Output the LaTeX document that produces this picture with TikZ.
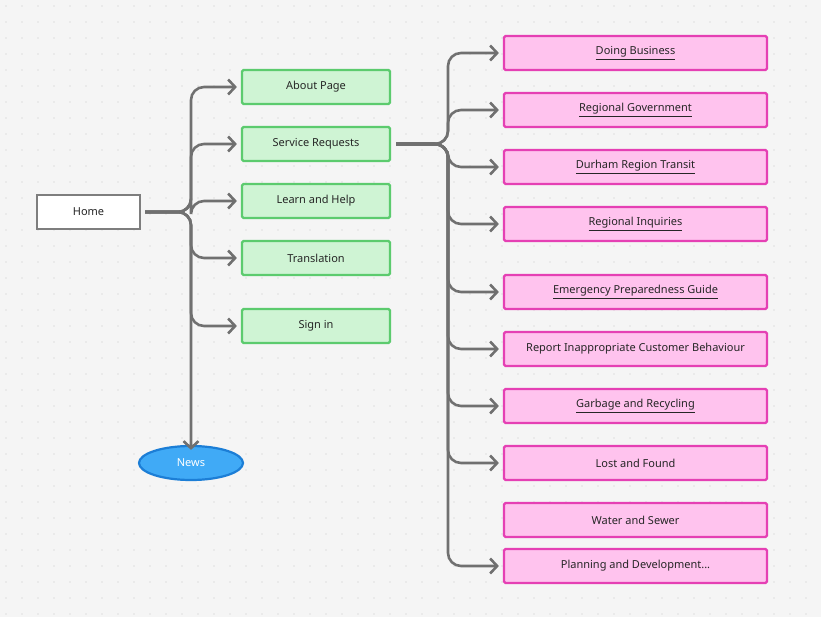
\documentclass[tikz,border=0pt]{standalone}
\usepackage{fontspec}
\setmainfont{Noto Sans}
\usetikzlibrary{arrows.meta,shapes.geometric}
\definecolor{bg}{HTML}{F5F5F5}
\definecolor{dotc}{HTML}{C8C8C8}
\definecolor{lnc}{HTML}{707070}
\definecolor{gfill}{HTML}{CFF4D4}
\definecolor{gline}{HTML}{5CCB6E}
\definecolor{pfill}{HTML}{FFC3EE}
\definecolor{pline}{HTML}{E540B4}
\definecolor{nfill}{HTML}{40AAF6}
\definecolor{nline}{HTML}{1C7ED6}
\tikzset{
  every node/.style={font=\fontsize{11}{13}\selectfont, text=black!85},
  homebox/.style={draw=lnc!90, line width=2.2pt, fill=white, minimum width=103pt, minimum height=34pt},
  gbox/.style={draw=gline, line width=2.2pt, fill=gfill, rounded corners=1.5pt, minimum width=148pt, minimum height=34pt},
  pbox/.style={draw=pline, line width=2.2pt, fill=pfill, rounded corners=1.5pt, minimum width=263pt, minimum height=34pt},
  newsell/.style={ellipse, draw=nline, line width=2.2pt, fill=nfill, minimum width=104pt, minimum height=34pt, text=white},
  conn/.style={draw=lnc, line width=2.6pt, rounded corners=13pt, -{Straight Barb[length=7pt,width=15pt,line width=2.6pt]}},
}
\begin{document}
\begin{tikzpicture}[x=1pt,y=-1pt]
\fill[bg] (0,0) rectangle (821,617);
\useasboundingbox (0,0) rectangle (821,617);
\foreach \i in {0,...,51}{\foreach \j in {0,...,38}{\fill[dotc] (\i*16+6,\j*16+6) circle (0.7);}}
\node[homebox] (home) at (88.5,212) {Home};
\node[gbox] (about) at (316,87) {About Page};
\node[gbox] (serv) at (316,144) {Service Requests};
\node[gbox] (learn) at (316,201) {Learn and Help};
\node[gbox] (trans) at (316,258) {Translation};
\node[gbox] (sign) at (316,326) {Sign in};
\node[newsell] (news) at (191,463) {News};
\node[pbox] (p1) at (635.5,53) {\underline{Doing Business}};
\node[pbox] (p2) at (635.5,110) {\underline{Regional Government}};
\node[pbox] (p3) at (635.5,167) {\underline{Durham Region Transit}};
\node[pbox] (p4) at (635.5,224) {\underline{Regional Inquiries}};
\node[pbox] (p5) at (635.5,292) {\underline{Emergency Preparedness Guide}};
\node[pbox] (p6) at (635.5,349) {Report Inappropriate Customer Behaviour};
\node[pbox] (p7) at (635.5,406) {\underline{Garbage and Recycling}};
\node[pbox] (p8) at (635.5,463) {Lost and Found};
\node[pbox] (p9) at (635.5,520) {Water and Sewer};
\node[pbox] (p10) at (635.5,566) {Planning and Development...};
\coordinate (t1) at (191,212);
\foreach \b in {about,serv,learn,trans,sign}{
  \draw[conn] ([xshift=4pt]home.east) -- (t1) |- ([xshift=-4pt]\b.west);
}
\draw[conn] ([xshift=4pt]home.east) -- (t1) -- ([yshift=-5pt]news.north);
\coordinate (t2) at (448,144);
\foreach \b in {p1,p2,p3,p4,p5,p6,p7,p8,p10}{
  \draw[conn] ([xshift=5pt]serv.east) -- (t2) |- ([xshift=-4pt]\b.west);
}
\end{tikzpicture}
\end{document}
